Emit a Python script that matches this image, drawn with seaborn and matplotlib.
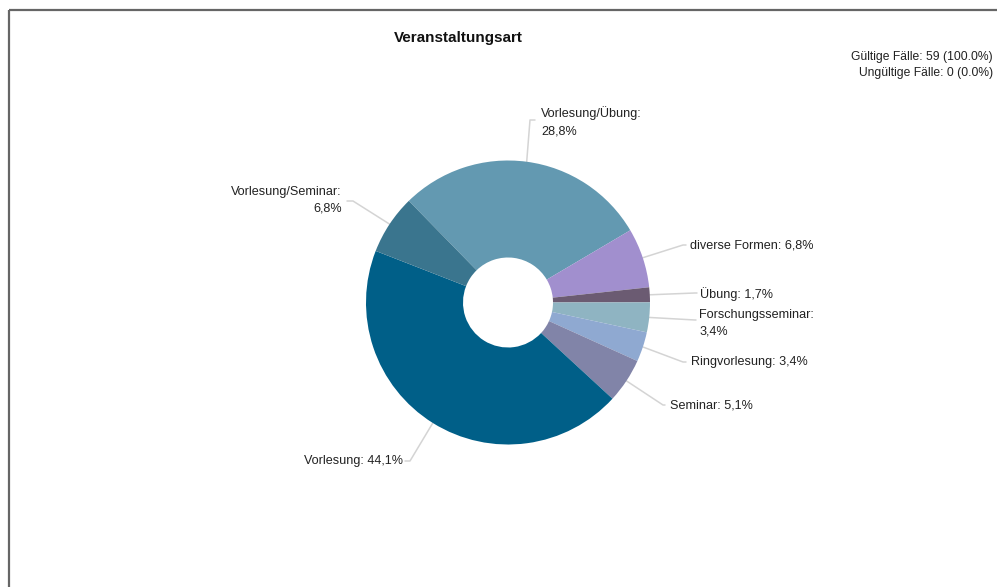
import numpy as np
import matplotlib
matplotlib.use("Agg")
import matplotlib.pyplot as plt
import seaborn as sns

# Daten (Anzahl Fälle, N = 59)
kategorien = ["Vorlesung/Übung", "diverse Formen", "Übung", "Forschungsseminar",
              "Ringvorlesung", "Seminar", "Vorlesung", "Vorlesung/Seminar"]
anzahl = [17, 4, 1, 2, 2, 3, 26, 4]
beschriftung = ["Vorlesung/Übung:\n28,8%", "diverse Formen: 6,8%", "Übung: 1,7%",
                "Forschungsseminar:\n3,4%", "Ringvorlesung: 3,4%", "Seminar: 5,1%",
                "Vorlesung: 44,1%", "Vorlesung/Seminar:\n6,8%"]
farben = ["#6399b1", "#a18fce", "#6b5b72", "#8fb4c2",
          "#8fa9d1", "#8184a8", "#005f88", "#3a758e"]
titel = "Veranstaltungsart"
info = "Gültige Fälle: 59 (100.0%)\nUngültige Fälle: 0 (0.0%)"

sns.set_theme(style="white")
plt.rcParams['font.family'] = ['Liberation Sans', 'DejaVu Sans']

W, H = 997, 587
fig = plt.figure(figsize=(W / 100, H / 100), dpi=100)
ax = fig.add_axes([0, 0, 1, 1])

# Donut (Pixelkoordinaten, y nach unten)
cx, cy, r = 508, 302.5, 142
wedges, _ = ax.pie(anzahl, colors=farben, center=(cx, cy), radius=r,
                   startangle=-134.3, counterclock=True, frame=True,
                   wedgeprops=dict(width=97, linewidth=0.3, edgecolor="none"))
ax.set_xlim(0, W)
ax.set_ylim(H, 0)
ax.set_aspect("equal")
ax.axis("off")

# Beschriftungen mit Führungslinien: (Knick, Ende, Textposition, Ausrichtung)
layout = [
    ((530, 120), (535, 120), (541, 122), "left"),
    ((683, 245), (686, 245), (690, 245), "left"),
    ((695, 293), (697, 293), (700, 294), "left"),
    ((695, 320), (696, 320), (699, 323), "left"),
    ((683, 362), (686, 362), (691, 362), "left"),
    ((663, 405), (665, 405), (670, 406), "left"),
    ((410, 461), (405, 461), (403, 461), "right"),
    ((353, 201), (347, 201), (342, 200), "right"),
]
for w, lab, (knick, ende, tpos, ha) in zip(wedges, beschriftung, layout):
    phi = np.deg2rad((w.theta1 + w.theta2) / 2)
    ax_, ay_ = cx + r * np.cos(phi), cy + r * np.sin(phi)
    ax.plot([ax_, knick[0], ende[0]], [ay_, knick[1], ende[1]],
            color="#d4d4d4", lw=1.1, zorder=0)
    ax.text(tpos[0], tpos[1], lab, ha=ha, va="center", fontsize=9.1,
            color="#222222", linespacing=1.55,
            multialignment=ha)

ax.text(458, 38, titel, ha="center", va="center", fontsize=11,
        fontweight="bold", color="#111111")
ax.text(993, 65, info, ha="right", va="center", fontsize=8.7,
        color="#222222", linespacing=1.55)

# Rahmen oben und links
ax.plot([9, 9], [H, 10], color="#666666", lw=1.6, solid_capstyle="butt")
ax.plot([9, W], [10, 10], color="#666666", lw=1.6, solid_capstyle="butt")

fig.savefig("out.png", dpi=100)
